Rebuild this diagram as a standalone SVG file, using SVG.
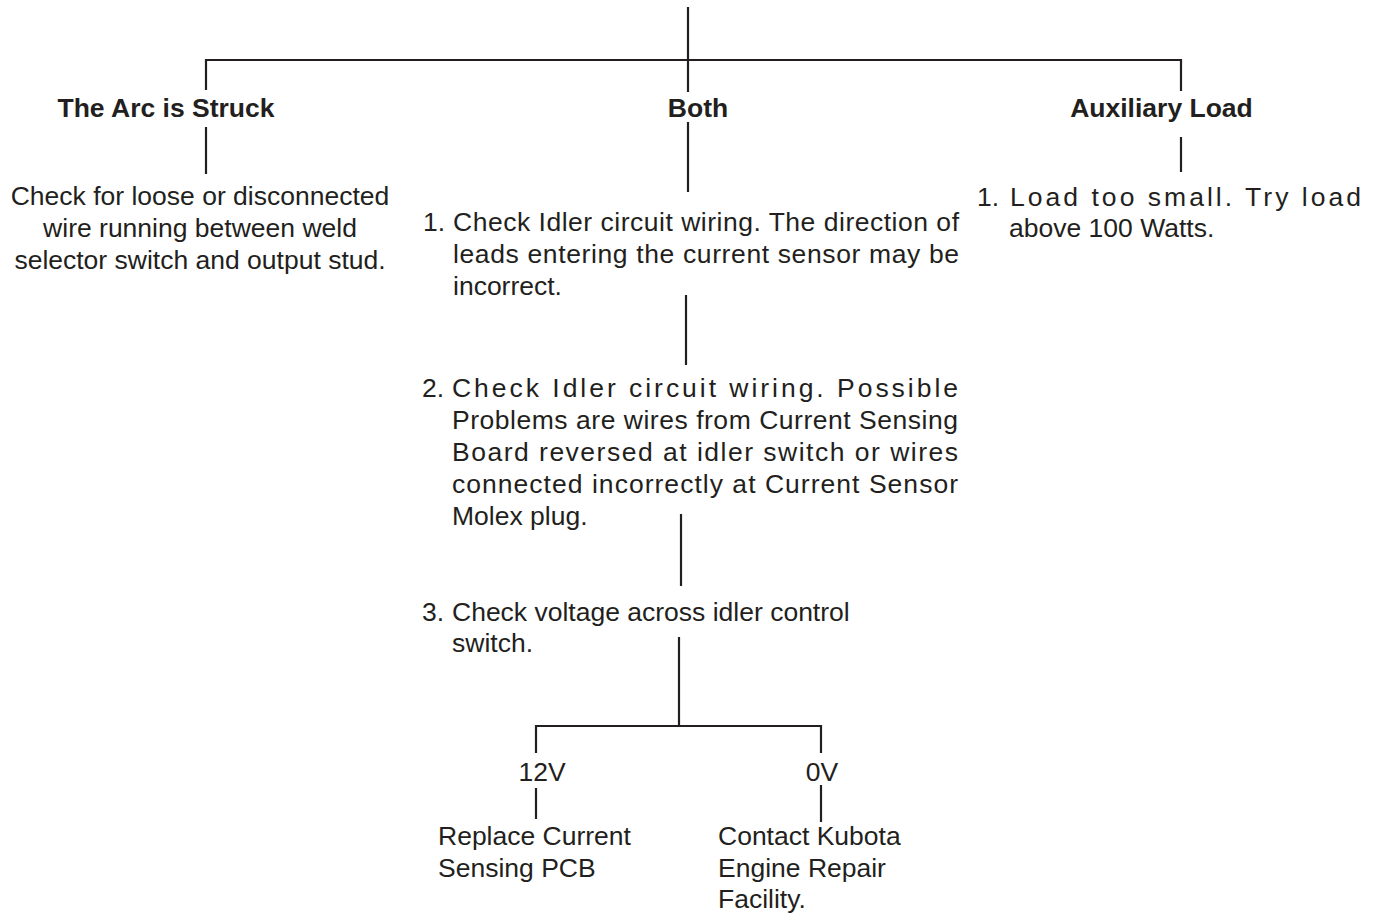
<svg xmlns="http://www.w3.org/2000/svg" width="1379" height="913" viewBox="0 0 1379 913">
<style>
  .ln { stroke: #231f20; stroke-width: 2.2; fill: none; stroke-linecap: butt; }
  .t { font-family: "Liberation Sans", Arial, sans-serif; font-size: 26.5px; fill: #231f20; }
  .b { font-family: "Liberation Sans", Arial, sans-serif; font-size: 26.5px; font-weight: bold; fill: #231f20; }
  .c { text-anchor: middle; }
</style>
<rect width="1379" height="913" fill="#ffffff"/>
<g id="connectors">
  <path class="ln" d="M688 7 V92"/>
  <path class="ln" d="M206 90 V60 H1181 V91"/>
  <path class="ln" d="M206 127 V174"/>
  <path class="ln" d="M688 122 V192"/>
  <path class="ln" d="M1181 137 V172"/>
  <path class="ln" d="M686 295 V365"/>
  <path class="ln" d="M681 514 V586"/>
  <path class="ln" d="M679 637 V726"/>
  <path class="ln" d="M536 753 V726 H821 V753"/>
  <path class="ln" d="M536 788 V819"/>
  <path class="ln" d="M821 785 V822"/>
</g>
<g id="node-arc">
  <text class="b c" x="166" y="117">The Arc is Struck</text>
</g>
<g id="node-both">
  <text class="b c" x="698" y="117">Both</text>
</g>
<g id="node-aux">
  <text class="b c" x="1161.5" y="117">Auxiliary Load</text>
</g>
<g id="node-arc-check">
  <text class="t c" x="200" y="205">Check for loose or disconnected</text>
  <text class="t c" x="200" y="237">wire running between weld</text>
  <text class="t c" x="200" y="269">selector switch and output stud.</text>
</g>
<g id="node-aux-1">
  <text class="t" x="977" y="206">1.</text>
  <text class="t" x="1010" y="206" textLength="351" lengthAdjust="spacing">Load too small. Try load</text>
  <text class="t" x="1009" y="237">above 100 Watts.</text>
</g>
<g id="node-step1">
  <text class="t" x="423" y="231">1.</text>
  <text class="t" x="453" y="231" textLength="506" lengthAdjust="spacing">Check Idler circuit wiring. The direction of</text>
  <text class="t" x="453" y="263" textLength="506" lengthAdjust="spacing">leads entering the current sensor may be</text>
  <text class="t" x="453" y="295">incorrect.</text>
</g>
<g id="node-step2">
  <text class="t" x="422" y="397">2.</text>
  <text class="t" x="452" y="397" textLength="506" lengthAdjust="spacing">Check Idler circuit wiring. Possible</text>
  <text class="t" x="452" y="429" textLength="506" lengthAdjust="spacing">Problems are wires from Current Sensing</text>
  <text class="t" x="452" y="461" textLength="506" lengthAdjust="spacing">Board reversed at idler switch or wires</text>
  <text class="t" x="452" y="493" textLength="506" lengthAdjust="spacing">connected incorrectly at Current Sensor</text>
  <text class="t" x="452" y="525">Molex plug.</text>
</g>
<g id="node-step3">
  <text class="t" x="422" y="621">3.</text>
  <text class="t" x="452" y="621">Check voltage across idler control</text>
  <text class="t" x="452" y="652">switch.</text>
</g>
<g id="node-12v">
  <text class="t c" x="542" y="781">12V</text>
</g>
<g id="node-0v">
  <text class="t c" x="822" y="781">0V</text>
</g>
<g id="node-replace">
  <text class="t" x="438" y="845">Replace Current</text>
  <text class="t" x="438" y="877">Sensing PCB</text>
</g>
<g id="node-contact">
  <text class="t" x="718" y="845">Contact Kubota</text>
  <text class="t" x="718" y="877">Engine Repair</text>
  <text class="t" x="718" y="908">Facility.</text>
</g>
</svg>
